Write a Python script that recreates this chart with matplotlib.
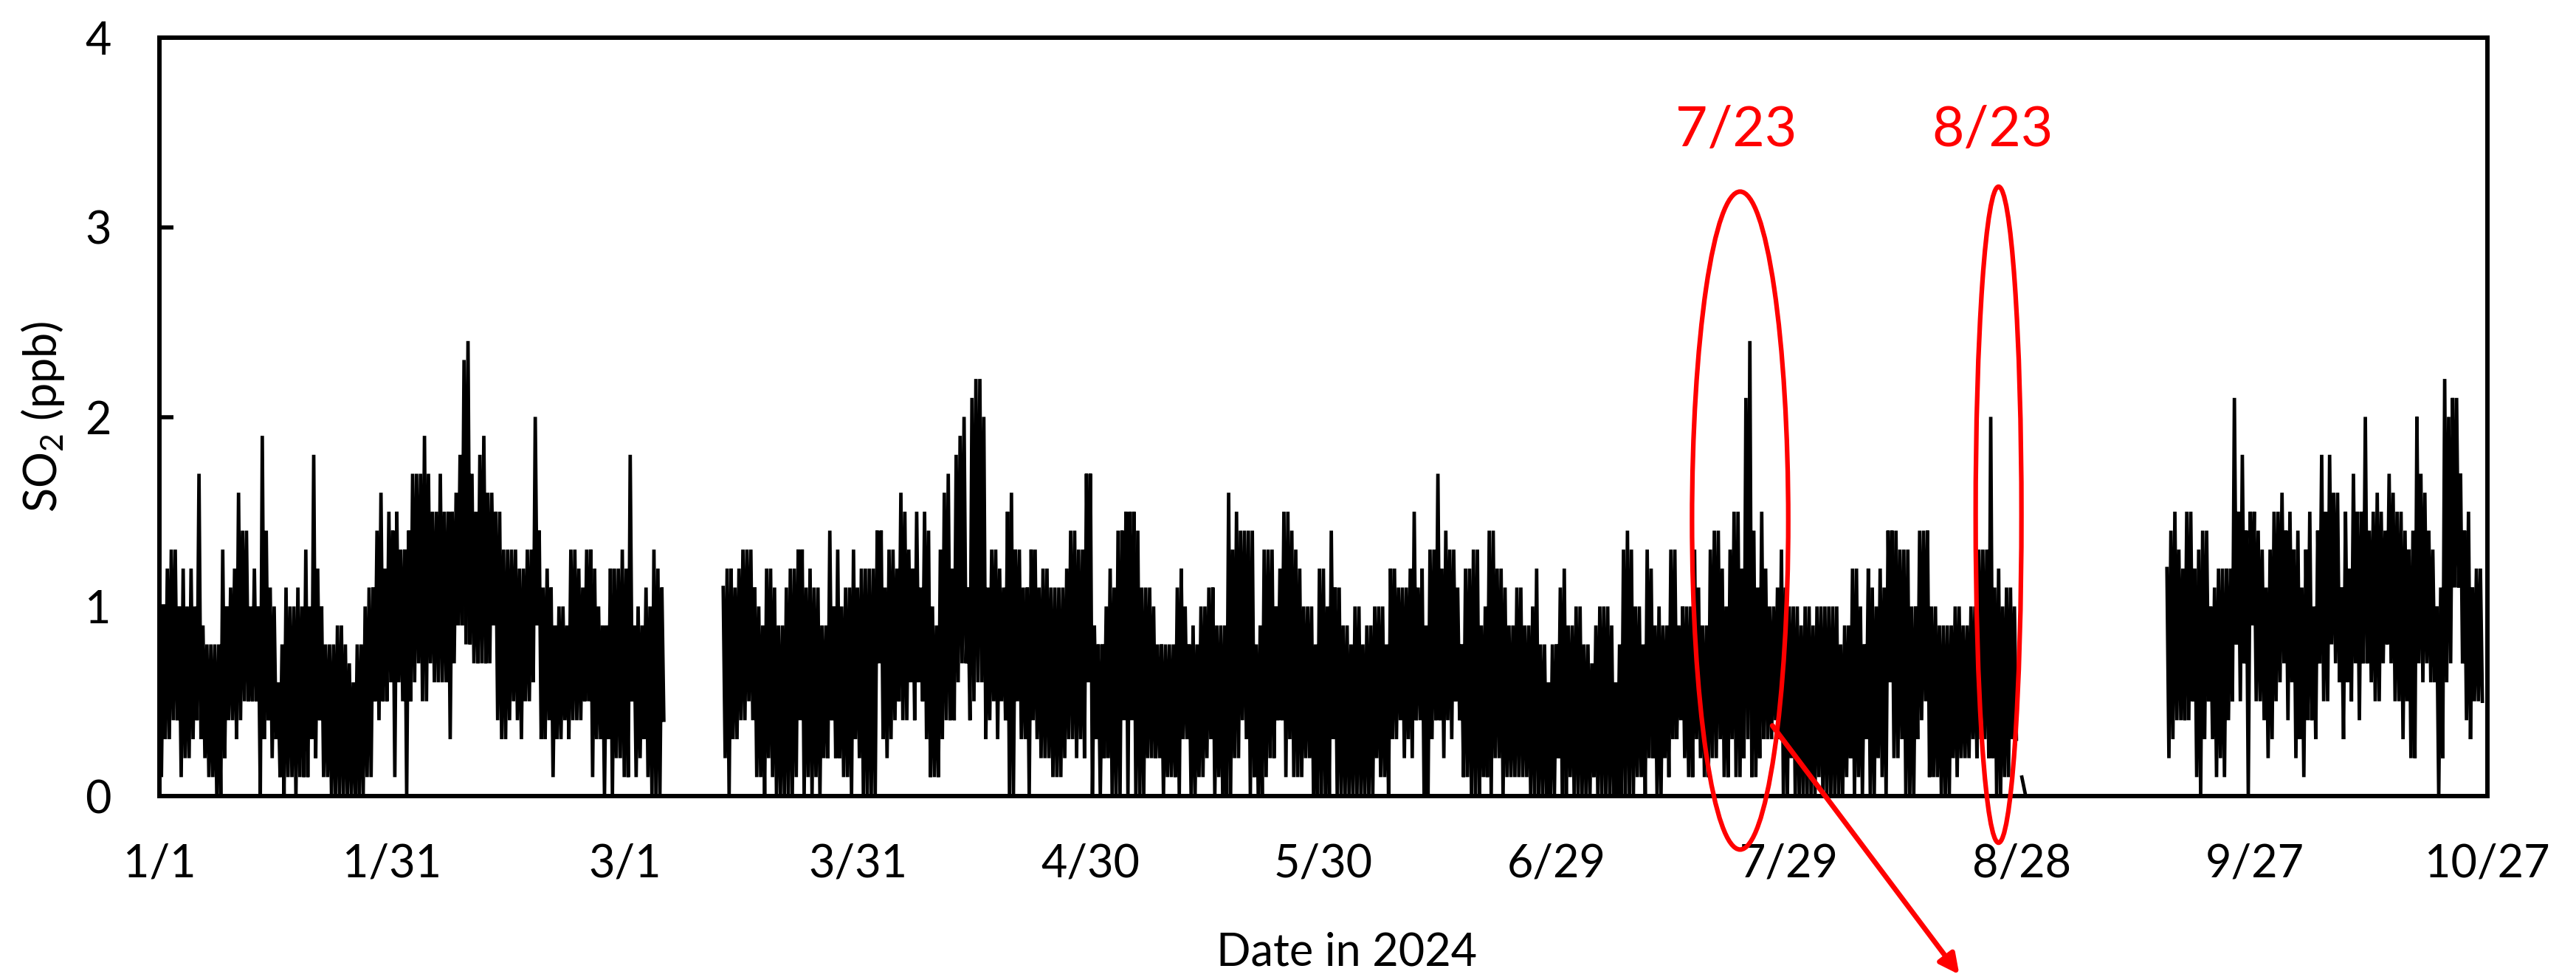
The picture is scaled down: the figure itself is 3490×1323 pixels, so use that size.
import numpy as np
import matplotlib
matplotlib.use("Agg")
import matplotlib.pyplot as plt
from matplotlib.patches import Ellipse

plt.rcParams['font.family'] = ['Lato', 'DejaVu Sans']
plt.rcParams['mathtext.fontset'] = 'custom'
plt.rcParams['mathtext.rm'] = 'Lato'

# SO2 (ppb) at roughly half-day steps:
# upper and lower edge of the trace in each step. Day 0 = 1/1/2024.
seg1_days = (0.0, 65.0)
seg1_hi = [1.1, 1.0, 1.2, 1.3, 1.3, 1.0, 1.2, 1.0, 1.2, 1.0,
           1.7, 0.9, 0.8, 0.8, 0.8, 0.8, 1.3, 1.0, 1.1, 1.2,
           1.6, 1.4, 1.4, 1.0, 1.2, 1.0, 1.9, 1.4, 1.1, 1.0,
           0.6, 0.8, 1.1, 1.0, 1.0, 1.1, 1.0, 1.3, 1.0, 1.8,
           1.2, 1.0, 0.8, 0.8, 0.8, 0.9, 0.9, 0.8, 0.7, 0.6,
           0.8, 0.8, 1.0, 1.1, 1.1, 1.4, 1.6, 1.2, 1.5, 1.4,
           1.5, 1.3, 1.3, 1.4, 1.7, 1.7, 1.7, 1.9, 1.7, 1.5,
           1.5, 1.7, 1.5, 1.5, 1.5, 1.6, 1.8, 2.3, 2.4, 1.7,
           1.5, 1.8, 1.9, 1.6, 1.6, 1.5, 1.5, 1.3, 1.3, 1.3,
           1.3, 1.2, 1.2, 1.3, 1.3, 2.0, 1.4, 1.1, 1.2, 1.1,
           0.9, 1.0, 1.0, 0.9, 1.3, 1.3, 1.2, 1.1, 1.3, 1.3,
           1.2, 1.0, 0.9, 0.9, 1.2, 1.2, 1.2, 1.3, 1.2, 1.8,
           0.9, 1.0, 0.9, 1.1, 1.0, 1.3, 1.2, 1.1]
seg1_lo = [0.1, 0.3, 0.3, 0.4, 0.4, 0.1, 0.2, 0.2, 0.3, 0.4,
           0.3, 0.2, 0.1, 0.1, 0.0, 0.0, 0.2, 0.4, 0.4, 0.3,
           0.4, 0.5, 0.5, 0.5, 0.5, 0.0, 0.3, 0.4, 0.2, 0.3,
           0.1, 0.0, 0.1, 0.1, 0.0, 0.1, 0.1, 0.1, 0.3, 0.2,
           0.4, 0.1, 0.1, 0.0, 0.0, 0.0, 0.0, 0.0, 0.0, 0.0,
           0.0, 0.0, 0.1, 0.1, 0.5, 0.4, 0.5, 0.5, 0.6, 0.1,
           0.6, 0.5, 0.0, 0.5, 0.6, 0.7, 0.5, 0.5, 0.7, 0.6,
           0.6, 0.6, 0.6, 0.3, 0.7, 0.9, 0.9, 0.8, 0.8, 0.7,
           0.7, 0.7, 0.7, 0.7, 0.9, 0.4, 0.3, 0.3, 0.4, 0.5,
           0.4, 0.3, 0.5, 0.5, 0.6, 0.9, 0.3, 0.3, 0.4, 0.1,
           0.3, 0.3, 0.4, 0.3, 0.4, 0.4, 0.4, 0.5, 0.5, 0.1,
           0.3, 0.3, 0.0, 0.3, 0.0, 0.2, 0.2, 0.1, 0.1, 0.5,
           0.1, 0.2, 0.3, 0.1, 0.0, 0.0, 0.0, 0.4]

seg2_days = (72.65, 239.3)
seg2_hi = [1.1, 1.2, 1.2, 1.1, 1.2, 1.3, 1.3, 1.3, 1.1, 1.0,
           0.9, 1.2, 1.2, 1.1, 0.9, 0.9, 1.1, 1.2, 1.2, 1.3,
           1.3, 1.1, 1.2, 1.1, 1.1, 0.9, 0.9, 1.4, 1.0, 1.3,
           1.0, 1.1, 1.1, 1.3, 1.1, 1.2, 1.2, 1.2, 1.2, 1.4,
           1.4, 1.1, 1.3, 1.3, 1.2, 1.6, 1.5, 1.3, 1.2, 1.5,
           1.1, 1.5, 1.4, 1.0, 0.9, 1.3, 1.6, 1.7, 1.2, 1.8,
           1.9, 2.0, 1.1, 2.1, 2.2, 2.2, 2.0, 1.1, 1.3, 1.3,
           1.2, 1.1, 1.5, 1.6, 1.3, 1.3, 1.1, 1.1, 1.3, 1.3,
           1.1, 1.2, 1.2, 1.1, 1.1, 1.1, 1.1, 1.2, 1.4, 1.4,
           1.3, 1.3, 1.7, 1.7, 0.9, 0.8, 0.8, 1.0, 1.2, 1.1,
           1.4, 1.4, 1.5, 1.5, 1.5, 1.4, 1.1, 1.1, 1.1, 1.0,
           0.8, 0.8, 0.8, 0.8, 0.8, 1.1, 1.2, 1.0, 0.8, 0.9,
           0.8, 1.0, 1.0, 1.1, 1.1, 0.9, 0.9, 0.9, 1.6, 1.3,
           1.5, 1.4, 1.4, 1.4, 1.4, 0.8, 0.9, 1.3, 1.3, 1.3,
           1.0, 1.2, 1.5, 1.5, 1.4, 1.3, 1.2, 1.0, 1.0, 1.0,
           0.8, 1.2, 1.2, 1.0, 1.4, 1.1, 1.1, 0.9, 0.9, 0.8,
           1.0, 1.0, 0.8, 0.9, 0.9, 1.0, 1.0, 1.0, 0.8, 1.2,
           1.2, 1.1, 1.1, 1.1, 1.2, 1.5, 1.1, 1.2, 0.9, 1.3,
           1.3, 1.7, 1.2, 1.4, 1.3, 1.3, 1.1, 0.8, 1.2, 1.2,
           1.3, 1.3, 0.9, 1.0, 1.4, 1.4, 1.2, 1.2, 1.1, 0.9,
           0.9, 1.1, 1.1, 0.9, 0.9, 1.0, 1.2, 0.8, 0.8, 0.6,
           0.8, 0.8, 1.1, 1.2, 0.9, 0.9, 1.0, 1.0, 0.8, 0.8,
           0.7, 0.9, 1.0, 1.0, 1.0, 0.9, 0.6, 0.8, 1.3, 1.4,
           1.3, 1.0, 1.0, 0.8, 1.3, 1.2, 0.9, 1.0, 0.9, 0.9,
           1.3, 1.3, 0.9, 1.0, 1.0, 1.0, 1.3, 1.1, 0.9, 0.9,
           1.3, 1.4, 1.4, 1.2, 1.0, 1.3, 1.5, 1.5, 1.2, 2.1,
           2.4, 1.4, 1.1, 1.5, 1.2, 1.0, 1.0, 1.1, 1.3, 1.1,
           1.0, 1.0, 1.0, 0.9, 1.0, 1.0, 0.9, 1.0, 1.0, 1.0,
           1.0, 1.0, 1.0, 0.8, 0.9, 0.9, 1.2, 1.2, 1.0, 0.8,
           1.2, 1.1, 1.0, 1.2, 1.1, 1.4, 1.4, 1.4, 1.3, 1.3,
           1.3, 1.0, 1.0, 1.4, 1.4, 1.4, 1.0, 1.0, 0.9, 0.9,
           0.9, 0.9, 1.0, 1.0, 0.9, 0.9, 1.0, 1.0, 1.3, 1.3,
           1.3, 2.0, 1.1, 1.2, 1.0, 1.1, 1.1, 1.0]
seg2_lo = [0.2, 0.0, 0.3, 0.3, 0.4, 0.4, 0.5, 0.4, 0.1, 0.1,
           0.0, 0.2, 0.1, 0.0, 0.0, 0.0, 0.0, 0.0, 0.1, 0.4,
           0.0, 0.1, 0.0, 0.1, 0.0, 0.2, 0.2, 0.4, 0.2, 0.2,
           0.1, 0.1, 0.0, 0.3, 0.2, 0.0, 0.0, 0.0, 0.0, 0.7,
           0.3, 0.2, 0.3, 0.4, 0.5, 0.4, 0.4, 0.6, 0.4, 0.6,
           0.5, 0.3, 0.1, 0.1, 0.1, 0.3, 0.4, 0.4, 0.4, 0.6,
           0.7, 0.7, 0.4, 0.5, 0.6, 0.6, 0.3, 0.4, 0.5, 0.3,
           0.5, 0.4, 0.0, 0.0, 0.5, 0.3, 0.3, 0.0, 0.4, 0.3,
           0.2, 0.2, 0.2, 0.1, 0.1, 0.1, 0.2, 0.3, 0.3, 0.2,
           0.3, 0.2, 0.6, 0.0, 0.3, 0.0, 0.2, 0.2, 0.0, 0.0,
           0.0, 0.4, 0.0, 0.4, 0.0, 0.0, 0.0, 0.2, 0.2, 0.2,
           0.2, 0.0, 0.1, 0.1, 0.1, 0.0, 0.3, 0.3, 0.0, 0.0,
           0.1, 0.1, 0.2, 0.3, 0.0, 0.1, 0.0, 0.0, 0.0, 0.2,
           0.2, 0.4, 0.3, 0.0, 0.1, 0.0, 0.0, 0.1, 0.2, 0.2,
           0.4, 0.4, 0.1, 0.3, 0.1, 0.1, 0.1, 0.2, 0.2, 0.0,
           0.0, 0.0, 0.0, 0.0, 0.3, 0.0, 0.0, 0.0, 0.0, 0.0,
           0.0, 0.0, 0.0, 0.0, 0.0, 0.2, 0.1, 0.1, 0.0, 0.3,
           0.3, 0.4, 0.2, 0.3, 0.2, 0.4, 0.4, 0.0, 0.0, 0.3,
           0.4, 0.4, 0.2, 0.4, 0.3, 0.5, 0.4, 0.1, 0.1, 0.0,
           0.0, 0.0, 0.1, 0.1, 0.0, 0.2, 0.2, 0.0, 0.1, 0.1,
           0.1, 0.1, 0.1, 0.1, 0.0, 0.0, 0.0, 0.0, 0.0, 0.0,
           0.0, 0.2, 0.0, 0.0, 0.1, 0.0, 0.0, 0.0, 0.0, 0.0,
           0.1, 0.0, 0.0, 0.0, 0.0, 0.0, 0.0, 0.0, 0.0, 0.0,
           0.0, 0.1, 0.1, 0.0, 0.2, 0.2, 0.0, 0.0, 0.2, 0.1,
           0.3, 0.3, 0.4, 0.2, 0.1, 0.1, 0.3, 0.2, 0.1, 0.1,
           0.2, 0.2, 0.3, 0.1, 0.1, 0.3, 0.1, 0.1, 0.2, 0.3,
           0.1, 0.1, 0.2, 0.3, 0.3, 0.3, 0.4, 0.3, 0.0, 0.0,
           0.2, 0.0, 0.0, 0.0, 0.0, 0.0, 0.0, 0.1, 0.0, 0.0,
           0.0, 0.0, 0.0, 0.0, 0.1, 0.2, 0.0, 0.1, 0.0, 0.3,
           0.0, 0.0, 0.2, 0.1, 0.0, 0.6, 0.2, 0.2, 0.3, 0.0,
           0.0, 0.0, 0.3, 0.4, 0.5, 0.1, 0.1, 0.1, 0.0, 0.0,
           0.0, 0.2, 0.1, 0.2, 0.2, 0.2, 0.3, 0.2, 0.3, 0.3,
           0.2, 0.2, 0.0, 0.0, 0.1, 0.1, 0.3, 0.3]

# lone reading just after the August run
tail_days = (240.0, 240.5)
tail_vals = [0.1, 0.0]

seg3_days = (258.7, 299.35)
seg3_hi = [1.2, 1.4, 1.5, 1.3, 1.2, 1.5, 1.5, 1.2, 1.3, 1.4,
           1.4, 1.0, 1.1, 1.2, 1.2, 1.2, 1.2, 2.1, 1.5, 1.8,
           1.4, 1.5, 1.5, 1.4, 1.3, 1.1, 1.3, 1.5, 1.5, 1.6,
           1.4, 1.5, 1.3, 1.4, 1.1, 1.3, 1.5, 1.0, 1.4, 1.8,
           1.5, 1.8, 1.6, 1.6, 1.1, 1.5, 1.2, 1.7, 1.5, 1.5,
           2.0, 1.4, 1.5, 1.6, 1.5, 1.4, 1.7, 1.6, 1.5, 1.5,
           1.4, 1.3, 1.4, 2.0, 1.7, 1.6, 1.4, 1.3, 1.0, 1.1,
           2.2, 2.0, 2.1, 2.1, 1.7, 1.4, 1.5, 1.1, 1.2, 1.2]
seg3_lo = [0.2, 0.3, 0.4, 0.4, 0.4, 0.4, 0.5, 0.1, 0.0, 0.3,
           0.5, 0.3, 0.1, 0.2, 0.1, 0.4, 0.5, 0.8, 0.5, 0.7,
           0.0, 0.9, 0.5, 0.5, 0.4, 0.2, 0.3, 0.5, 0.6, 0.7,
           0.4, 0.6, 0.2, 0.3, 0.1, 0.4, 0.4, 0.3, 0.7, 0.5,
           0.5, 0.8, 0.7, 0.6, 0.3, 0.6, 0.5, 0.7, 0.4, 0.7,
           0.7, 0.6, 0.5, 0.5, 0.7, 0.8, 0.7, 0.5, 0.5, 0.3,
           0.5, 0.2, 0.2, 0.7, 0.6, 0.7, 0.6, 0.6, 0.0, 0.2,
           0.6, 0.7, 1.1, 1.1, 0.7, 0.4, 0.3, 0.5, 0.5, 0.5]

tick_days = [0, 30, 60, 90, 120, 150, 180, 210, 240, 270, 300]
tick_labels = ['1/1', '1/31', '3/1', '3/31', '4/30', '5/30', '6/29',
               '7/29', '8/28', '9/27', '10/27']


def trace(hi, lo, days):
    # alternate the upper and lower readings so the line sweeps the band
    vals = np.empty(2 * len(hi))
    vals[0::2] = hi
    vals[1::2] = lo
    t = np.linspace(days[0], days[1], len(vals))
    return t, vals


fig = plt.figure(figsize=(34.9, 13.23), dpi=100)
ax = fig.add_axes([216 / 3490, 1 - 1078 / 1323, 3154 / 3490, 1027 / 1323])

for hi, lo, days in [(seg1_hi, seg1_lo, seg1_days),
                     (seg2_hi, seg2_lo, seg2_days),
                     (seg3_hi, seg3_lo, seg3_days)]:
    t, v = trace(hi, lo, days)
    ax.plot(t, v, color='black', lw=3.4, solid_joinstyle='bevel')
ax.plot(np.linspace(tail_days[0], tail_days[1], len(tail_vals)), tail_vals,
        color='black', lw=3.4)

ax.set_xlim(0, 300)
ax.set_ylim(0, 4)
ax.set_xticks(tick_days)
ax.set_xticklabels(tick_labels)
ax.set_yticks([0, 1, 2, 3, 4])

for s in ax.spines.values():
    s.set_linewidth(4.3)
ax.tick_params(axis='y', direction='in', length=14, width=4, pad=47,
               labelsize=44)
ax.tick_params(axis='x', length=0, pad=46, labelsize=44)

ax.set_ylabel('SO$_\\mathregular{2}$ (ppb)', fontsize=44)
ax.yaxis.set_label_coords(-0.040, 0.5)
ax.set_xlabel('Date in 2024', fontsize=44, va='top')
ax.xaxis.set_label_coords(0.51, -0.179)

# red call-outs
ax.add_patch(Ellipse((203.7, 1.453), 12.4, 3.47, fill=False, ec='red',
                     lw=4.5, clip_on=False, zorder=5))
ax.add_patch(Ellipse((237.0, 1.484), 5.9, 3.46, fill=False, ec='red',
                     lw=4.5, clip_on=False, zorder=5))
ax.text(203.2, 3.51, '7/23', color='red', fontsize=54, ha='center',
        va='center')
ax.text(236.2, 3.51, '8/23', color='red', fontsize=54, ha='center',
        va='center')
ax.annotate('', xy=(232.1, -0.95), xytext=(207.7, 0.38),
            arrowprops=dict(arrowstyle='-|>', color='red', lw=5,
                            mutation_scale=40),
            annotation_clip=False, zorder=6)

fig.savefig('out.png', dpi=100)
